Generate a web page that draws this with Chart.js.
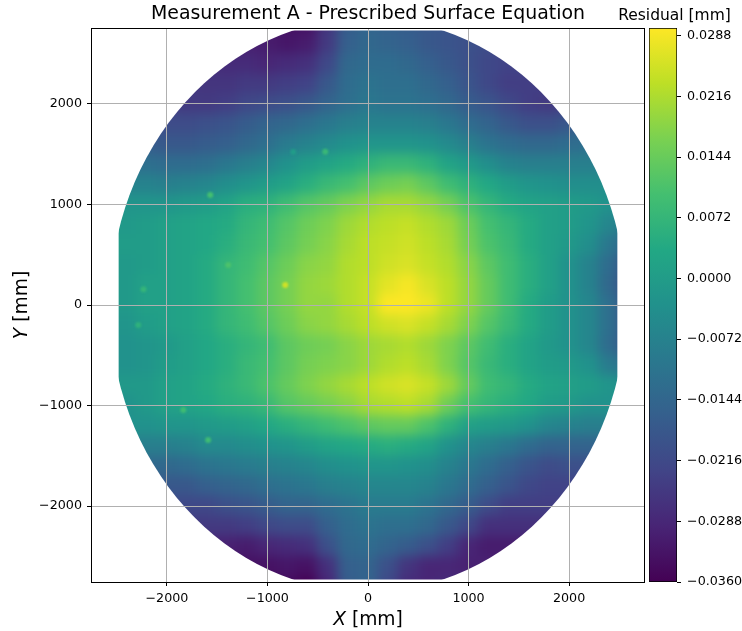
<!DOCTYPE html>
<html>
<head>
<meta charset="utf-8">
<style>
    html, body { margin: 0; padding: 0; background: #fff; }
    #page { position: relative; width: 742px; height: 631px; overflow: hidden; }
    canvas { position: absolute; top: 0; }
    #surface-chart { left: 0; }
    #colorbar-chart { left: 607px; }
</style>
<script src="https://cdn.jsdelivr.net/npm/chart.js@4"></script>
</head>
<body>
<div id="page">
    <canvas id="surface-chart" width="742" height="631"></canvas>
    <canvas id="colorbar-chart" width="135" height="631"></canvas>
</div>
<script>
// Values

const titleText = 'Measurement A - Prescribed Surface Equation';
const colorbarTitle = 'Residual [mm]';

const xTicks = [-2000, -1000, 0, 1000, 2000];
const yTicks = [-2000, -1000, 0, 1000, 2000];
const barTicks = [-0.036, -0.0288, -0.0216, -0.0144, -0.0072, 0, 0.0072, 0.0144, 0.0216, 0.0288];

// cell centres in mm
const cellX = [-2600, -2400, -2200, -2000, -1800, -1600, -1400, -1200, -1000, -800, -600, -400, -200, 0,
    200, 400, 600, 800, 1000, 1200, 1400, 1600, 1800, 2000, 2200, 2400, 2600];
const cellY = [2800, 2600, 2400, 2200, 2000, 1800, 1600, 1400, 1200, 1000, 800, 600, 400, 200, 0,
    -200, -400, -600, -800, -1000, -1200, -1400, -1600, -1800, -2000, -2200, -2400, -2600, -2800];

// residual per cell in microns, one row per cellY. Cells past the rim just repeat the rim value
const residualRows = [
    [-30,-30,-30,-30,-30,-30,-30,-30,-31,-33,-33,-26,-17,-15,-16,-17,-18,-19,-20,-20,-20,-20,-20,-20,-20,-20,-20],
    [-30,-30,-30,-30,-30,-30,-30,-30,-31,-32,-31,-25,-16,-14,-15,-16,-18,-19,-20,-21,-22,-22,-22,-22,-22,-22,-22],
    [-27,-27,-27,-27,-27,-27,-28,-28,-29,-28,-27,-22,-14,-13,-13,-14,-16,-18,-20,-22,-23,-23,-23,-23,-23,-23,-23],
    [-25,-25,-25,-25,-25,-26,-26,-25,-25,-24,-23,-18,-13,-11,-12,-12,-14,-16,-19,-22,-24,-24,-24,-24,-24,-24,-24],
    [-24,-24,-24,-24,-25,-25,-24,-22,-21,-20,-18,-15,-12,-10,-11,-11,-12,-14,-17,-19,-22,-24,-25,-24,-24,-24,-24],
    [-20,-20,-20,-21,-21,-20,-19,-17,-15,-14,-12,-10,-8,-7,-7,-7,-8,-10,-13,-15,-18,-20,-20,-18,-17,-17,-17],
    [-17,-17,-17,-18,-18,-17,-16,-14,-12,-9,-7,-5,-3,-2,-2,-2,-3,-5,-8,-11,-13,-14,-14,-13,-12,-12,-12],
    [-12,-12,-12,-13,-13,-12,-10,-8,-6,-3,0,2,4,6,8,8,6,2,-1,-4,-7,-8,-8,-8,-8,-8,-8],
    [-7,-7,-7,-8,-7,-6,-4,-2,0,2,5,8,10,13,15,16,13,9,6,3,0,-2,-3,-4,-4,-4,-4],
    [-2,-2,-2,-2,-1,0,2,5,6,9,12,14,17,19,21,21,19,16,11,7,4,2,1,0,-1,-3,-3],
    [-1,-1,0,1,2,3,4,7,9,12,15,17,20,22,23,24,22,20,15,10,7,4,1,0,-2,-6,-10],
    [0,0,0,1,2,3,5,8,10,13,16,18,21,23,24,25,23,21,16,11,8,4,1,-1,-4,-10,-16],
    [-1,-1,0,1,2,4,7,9,12,15,18,19,22,23,25,26,24,22,18,13,9,5,1,-3,-7,-13,-21],
    [-1,-1,1,1,2,4,7,10,13,16,19,20,22,24,27,29,26,23,19,14,9,5,1,-3,-7,-14,-22],
    [-1,-1,1,1,2,4,7,10,13,16,19,19,22,24,30,32,28,23,19,14,9,4,0,-3,-6,-12,-20],
    [-2,-2,0,1,2,4,7,9,12,15,18,19,21,23,25,26,24,21,17,12,8,4,0,-3,-6,-12,-20],
    [-3,-3,-2,-1,1,3,5,7,9,13,15,16,18,20,21,22,20,17,13,9,5,2,-1,-3,-6,-13,-20],
    [-3,-3,-2,0,1,3,5,8,10,13,16,17,18,20,22,23,21,17,12,8,5,2,0,-1,-3,-9,-13],
    [-1,-1,-1,1,2,4,6,8,11,14,17,19,21,23,25,26,24,20,14,9,7,4,2,1,0,-2,-4],
    [-3,-3,-1,1,2,3,5,6,8,12,14,16,18,21,22,23,21,15,10,7,5,3,0,-1,-3,-3,-3],
    [-3,-3,-3,-2,-2,-1,0,1,3,5,7,9,11,13,14,14,11,6,1,0,-1,-3,-6,-7,-8,-8,-8],
    [-8,-8,-8,-8,-7,-5,-5,-4,-3,-2,0,2,3,4,5,4,2,-3,-6,-8,-10,-13,-15,-15,-15,-15,-15],
    [-14,-14,-14,-14,-13,-11,-10,-9,-8,-7,-6,-4,-3,-2,-2,-3,-4,-7,-10,-13,-16,-19,-21,-20,-20,-20,-20],
    [-18,-18,-18,-18,-18,-16,-15,-14,-12,-11,-10,-8,-7,-6,-6,-6,-7,-10,-13,-16,-19,-22,-23,-23,-23,-23,-23],
    [-22,-22,-22,-22,-22,-22,-20,-19,-17,-15,-15,-13,-11,-9,-9,-9,-11,-14,-17,-21,-24,-24,-24,-24,-24,-24,-24],
    [-25,-25,-25,-25,-25,-25,-25,-24,-22,-21,-21,-16,-13,-11,-12,-12,-14,-18,-22,-27,-27,-27,-27,-27,-27,-27,-27],
    [-30,-30,-30,-30,-30,-30,-30,-31,-29,-28,-27,-20,-14,-13,-15,-17,-20,-24,-29,-31,-31,-31,-31,-31,-31,-31,-31],
    [-33,-33,-33,-33,-33,-33,-33,-33,-33,-32,-33,-27,-16,-15,-20,-26,-29,-29,-30,-30,-30,-30,-30,-30,-30,-30,-30],
    [-34,-34,-34,-34,-34,-34,-34,-34,-34,-34,-36,-29,-17,-15,-22,-28,-29,-28,-28,-28,-28,-28,-28,-28,-28,-28,-28]
];

// small bright specks on the surface
const spotX = [-1569, -425, -2233, -823, -2285, -1837, -1590, -1390, -743];
const spotY = [1094, 1525, 156, 199, -199, -1045, -1343, 398, 1522];
const spotValues = [10, 8, 7, 25, 6, 9, 9, 11, 0];

// viridis, low to high
const viridis = ['#440154', '#482475', '#414487', '#355f8d', '#2a788e', '#21918c', '#22a884', '#44bf70', '#7ad151', '#bddf26', '#fde725'];

const axisLimit = 2755;
const rimX = 2480;     // flat sides of the surface
const rimY = 2730;     // flat top and bottom
const rimA = 2568;     // ellipse half widths
const rimB = 2853;
const barMin = -0.036;
const barMax = 0.0297;
const fontName = '"DejaVu Sans"';

Chart.defaults.font.family = fontName;
Chart.defaults.color = '#000';
Chart.defaults.animation = false;

function hexToRgb(hex) {
    return [1, 3, 5].map(i => parseInt(hex.slice(i, i + 2), 16));
}

// residual in microns to a viridis colour
function colorFor(micron) {
    const t = Math.min(1, Math.max(0, (micron / 1000 - barMin) / (barMax - barMin))) * (viridis.length - 1);
    const i = Math.min(viridis.length - 2, Math.floor(t));
    const a = hexToRgb(viridis[i]);
    const b = hexToRgb(viridis[i + 1]);
    const c = a.map((v, k) => Math.round(v + (b[k] - v) * (t - i)));
    return `rgb(${c[0]}, ${c[1]}, ${c[2]})`;
}

function minusSign(text) {
    return String(text).replace('-', '\u2212');
}

function copyCanvas(canvas) {
    const copy = document.createElement('canvas');
    copy.width = canvas.width;
    copy.height = canvas.height;
    copy.getContext('2d').drawImage(canvas, 0, 0);
    return copy;
}

const cells = [];
cellY.forEach((y, r) => {
    cellX.forEach((x, c) => {
        cells.push({ x: x, y: y, v: residualRows[r][c] });
    });
});
const spots = spotX.map((x, i) => ({ x: x, y: spotY[i], v: spotValues[i] }));

// The library draws the cells, this blurs them the way imshow smooths a pixel grid and cuts them to the rim
let underlay = null;
const surfacePlugin = {
    id: 'surface',
    beforeDatasetDraw(chart, args) {
        if (args.index === 1) {
            chart.ctx.save();
            chart.ctx.filter = 'blur(1.3px)';
            return;
        }
        underlay = copyCanvas(chart.canvas);
        chart.ctx.clearRect(0, 0, chart.width, chart.height);
    },
    afterDatasetDraw(chart, args) {
        const ctx = chart.ctx;
        if (args.index === 1) {
            ctx.restore();
            return;
        }
        const sx = chart.scales.x;
        const sy = chart.scales.y;
        const drawn = copyCanvas(chart.canvas);
        ctx.clearRect(0, 0, chart.width, chart.height);
        ctx.drawImage(underlay, 0, 0);
        ctx.save();
        ctx.beginPath();
        ctx.ellipse(sx.getPixelForValue(0), sy.getPixelForValue(0),
            sx.getPixelForValue(rimA) - sx.getPixelForValue(0),
            sy.getPixelForValue(0) - sy.getPixelForValue(rimB), 0, 0, Math.PI * 2);
        ctx.clip();
        ctx.beginPath();
        ctx.rect(sx.getPixelForValue(-rimX), sy.getPixelForValue(rimY),
            sx.getPixelForValue(rimX) - sx.getPixelForValue(-rimX),
            sy.getPixelForValue(-rimY) - sy.getPixelForValue(rimY));
        ctx.clip();
        ctx.filter = 'blur(6px)';
        ctx.drawImage(drawn, 0, 0);
        ctx.restore();
    },
    afterDraw(chart) {
        const ctx = chart.ctx;
        const area = chart.chartArea;
        ctx.save();
        ctx.strokeStyle = '#000';
        ctx.lineWidth = 1;
        ctx.strokeRect(area.left + 0.5, area.top + 0.5, area.width - 1, area.height);

        // axis titles with the italic letter, as in the original
        ctx.fillStyle = '#000';
        ctx.textBaseline = 'alphabetic';
        drawAxisTitle(ctx, 'X', ' [mm]', chart.scales.x.getPixelForValue(0), 625, 0);
        drawAxisTitle(ctx, 'Y', ' [mm]', 27, chart.scales.y.getPixelForValue(0), -Math.PI / 2);
        ctx.restore();
    }
};

// the built-in title gets squeezed into the bar's width, this one can overhang it
const colorbarTitlePlugin = {
    id: 'colorbarTitle',
    afterDraw(chart) {
        const ctx = chart.ctx;
        ctx.save();
        ctx.fillStyle = '#000';
        ctx.font = `15.5px ${fontName}`;
        ctx.textAlign = 'center';
        ctx.textBaseline = 'alphabetic';
        ctx.fillText(colorbarTitle, chart.width / 2, 20);
        ctx.restore();
    }
};

function drawAxisTitle(ctx, letter, rest, x, y, angle) {
    const italic = `italic 18.7px ${fontName}`;
    const plain = `18.7px ${fontName}`;
    ctx.font = italic;
    const letterWidth = ctx.measureText(letter).width;
    ctx.font = plain;
    const restWidth = ctx.measureText(rest).width;
    ctx.save();
    ctx.translate(x, y);
    ctx.rotate(angle);
    ctx.textAlign = 'left';
    ctx.font = italic;
    ctx.fillText(letter, -(letterWidth + restWidth) / 2, 0);
    ctx.font = plain;
    ctx.fillText(rest, -(letterWidth + restWidth) / 2 + letterWidth, 0);
    ctx.restore();
}

function axisOptions(tickList, size) {
    return {
        type: 'linear',
        min: -axisLimit,
        max: axisLimit,
        afterBuildTicks: scale => { scale.ticks = tickList.map(v => ({ value: v })); },
        afterFit: scale => {
            if (scale.isHorizontal()) scale.height = size;
            else scale.width = size;
        },
        grid: { color: '#b0b0b0', lineWidth: 1, z: 1, tickColor: '#000', tickLength: 4 },
        border: { display: false },
        ticks: {
            autoSkip: false,
            maxRotation: 0,
            padding: 5,
            font: { size: 12.7 },
            callback: value => minusSign(value)
        }
    };
}

new Chart(document.getElementById('surface-chart'), {
    type: 'scatter',
    data: {
        datasets: [{
            label: 'Residual cells',
            order: 2,
            data: cells,
            clip: false,
            pointStyle: 'rect',
            borderWidth: 0,
            pointRadius: ctx => {
                const sx = ctx.chart.scales.x;
                return (sx.getPixelForValue(200) - sx.getPixelForValue(0) + 1) / Math.SQRT2;
            },
            backgroundColor: ctx => colorFor(ctx.raw.v)
        }, {
            label: 'Specks',
            order: 1,
            data: spots,
            pointStyle: 'circle',
            pointRadius: 3,
            borderWidth: 0,
            backgroundColor: ctx => colorFor(ctx.raw.v)
        }]
    },
    options: {
        responsive: false,
        animation: false,
        layout: { padding: { left: 0, right: 97, top: 0, bottom: 0 } },
        plugins: {
            legend: { display: false },
            tooltip: { enabled: false },
            title: {
                display: true,
                text: titleText,
                fullSize: false,
                color: '#000',
                padding: { top: 3, bottom: 3 },
                font: { size: 18.9, weight: 'normal', lineHeight: '22px' }
            }
        },
        scales: {
            x: axisOptions(xTicks, 49),
            y: axisOptions(yTicks, 91)
        }
    },
    plugins: [surfacePlugin]
});

new Chart(document.getElementById('colorbar-chart'), {
    type: 'bar',
    data: {
        labels: [colorbarTitle],
        datasets: [{
            data: [[barMin, barMax]],
            barPercentage: 1,
            categoryPercentage: 1,
            borderColor: '#000',
            borderWidth: 1,
            borderSkipped: false,
            backgroundColor: ctx => {
                const area = ctx.chart.chartArea;
                if (!area) return viridis[0];
                const gradient = ctx.chart.ctx.createLinearGradient(0, area.bottom, 0, area.top);
                viridis.forEach((c, i) => gradient.addColorStop(i / (viridis.length - 1), c));
                return gradient;
            }
        }]
    },
    options: {
        responsive: false,
        animation: false,
        layout: { padding: { left: 42, right: 0, top: 28, bottom: 49 } },
        plugins: {
            legend: { display: false },
            tooltip: { enabled: false },
            title: { display: false }
        },
        scales: {
            x: { display: false },
            y: {
                position: 'right',
                min: barMin,
                max: barMax,
                afterBuildTicks: scale => { scale.ticks = barTicks.map(v => ({ value: v })); },
                afterFit: scale => { scale.width = 65; },
                grid: { drawOnChartArea: false, tickColor: '#000', tickLength: 4 },
                border: { display: false },
                ticks: {
                    autoSkip: false,
                    padding: 6,
                    font: { size: 12.7 },
                    callback: value => minusSign(value.toFixed(4))
                }
            }
        }
    },
    plugins: [colorbarTitlePlugin]
});
</script>
</body>
</html>
